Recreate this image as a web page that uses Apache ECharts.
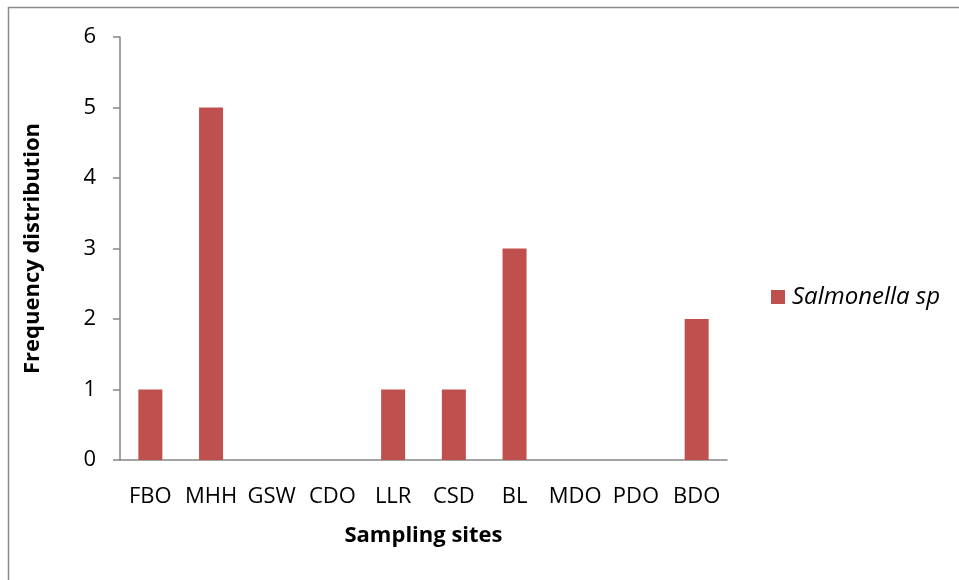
<!DOCTYPE html>
<html>
<head>
<meta charset="utf-8">
<script src="https://cdn.jsdelivr.net/npm/echarts@6/dist/echarts.min.js"></script>
<style>html,body{margin:0;padding:0;background:#fff;}#c{width:959px;height:580px;}</style>
</head>
<body>
<div id="c"></div>
<script>
const categories = ['FBO','MHH','GSW','CDO','LLR','CSD','BL','MDO','PDO','BDO'];
const salmonella = [1,5,0,0,1,1,3,0,0,2];
const seriesName = 'Salmonella sp';
const yTicks = [0,1,2,3,4,5,6];

const chart = echarts.init(document.getElementById('c'), null, {renderer:'canvas'});
const font = 'Open Sans';
chart.setOption({
  animation:false,
  backgroundColor:'#fff',
  graphic:[{type:'rect',shape:{x:8.5,y:7.5,width:1000,height:1000},style:{fill:'none',stroke:'#8c8c8c',lineWidth:1.5},silent:true}],
  grid:{left:120,right:232,top:37,bottom:120},
  legend:{
    data:[seriesName],orient:'vertical',left:771,top:285,padding:0,
    itemWidth:14,itemHeight:14,itemGap:6,icon:'rect',
    textStyle:{fontFamily:font,fontSize:24,fontStyle:'italic',color:'#000',padding:[0,0,0,2]}
  },
  xAxis:{
    type:'category',data:categories,
    axisLine:{lineStyle:{color:'#868686',width:1.5}},
    axisTick:{show:false},
    axisLabel:{color:'#000',fontFamily:font,fontSize:22,margin:26,interval:0},
    name:'Sampling sites',nameLocation:'middle',nameGap:65,
    nameTextStyle:{color:'#000',fontFamily:font,fontSize:22,fontWeight:'bold'}
  },
  yAxis:{
    type:'value',min:0,max:6,interval:1,
    axisLine:{show:true,lineStyle:{color:'#868686',width:1.5}},
    axisTick:{show:true,length:7,lineStyle:{color:'#868686',width:1.5}},
    splitLine:{show:false},
    axisLabel:{color:'#000',fontFamily:font,fontSize:22,margin:24,formatter:v=>yTicks.includes(v)?String(v):''},
    name:'Frequency distribution',nameLocation:'middle',nameGap:76,nameRotate:90,
    nameTextStyle:{color:'#000',fontFamily:font,fontSize:22,fontWeight:'bold'}
  },
  series:[{
    name:seriesName,type:'bar',data:salmonella,barWidth:24,
    itemStyle:{color:'#C0504D'}
  }]
});
</script>
</body>
</html>
